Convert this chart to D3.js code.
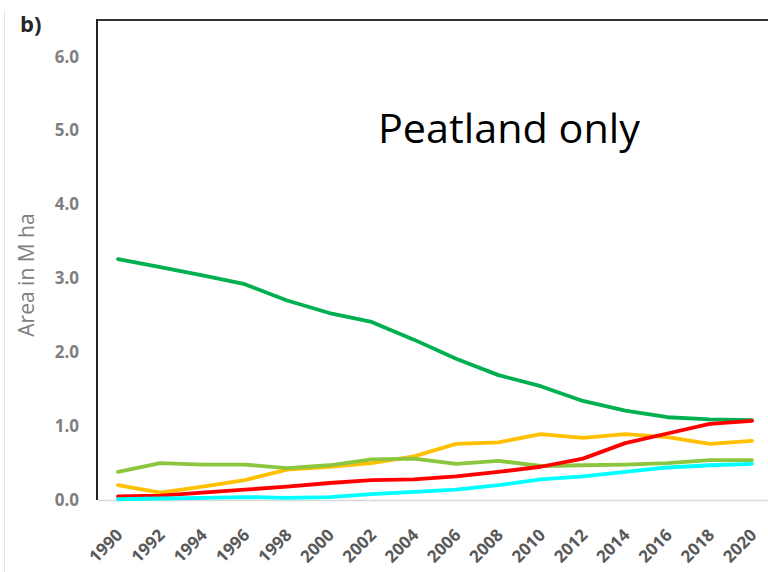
<!DOCTYPE html>
<html>
<head>
<meta charset="utf-8">
<script src="https://cdn.jsdelivr.net/npm/d3@7/dist/d3.min.js"></script>
<style>
  html, body { margin: 0; padding: 0; background: #fff; }
  svg { display: block; }
</style>
</head>
<body>
<svg id="chart" width="768" height="572"></svg>
<script>
// Years on the x axis (one label every two years)
const years = [1990, 1992, 1994, 1996, 1998, 2000, 2002, 2004, 2006, 2008, 2010, 2012, 2014, 2016, 2018, 2020];

// Area in million hectares, one array per land-cover series
const darkGreen  = [3.26, 3.15, 3.04, 2.92, 2.70, 2.53, 2.41, 2.17, 1.91, 1.69, 1.54, 1.34, 1.21, 1.12, 1.09, 1.08];
const orange     = [0.20, 0.10, 0.18, 0.27, 0.41, 0.45, 0.50, 0.59, 0.76, 0.78, 0.89, 0.84, 0.89, 0.85, 0.76, 0.80];
const lightGreen = [0.38, 0.50, 0.48, 0.48, 0.43, 0.47, 0.55, 0.56, 0.49, 0.53, 0.46, 0.47, 0.48, 0.50, 0.54, 0.54];
const red        = [0.05, 0.06, 0.10, 0.14, 0.18, 0.23, 0.27, 0.28, 0.32, 0.38, 0.45, 0.56, 0.77, 0.90, 1.03, 1.07];
const cyan       = [0.01, 0.02, 0.03, 0.04, 0.03, 0.04, 0.08, 0.11, 0.14, 0.20, 0.28, 0.32, 0.38, 0.44, 0.47, 0.49];

const yTicks = [0, 1, 2, 3, 4, 5, 6];

const series = [
  { values: darkGreen,  color: "#00b050" },
  { values: orange,     color: "#ffc000" },
  { values: lightGreen, color: "#8cc63f" },
  { values: red,        color: "#ff0000" },
  { values: cyan,       color: "#00ffff" }
];

const svg = d3.select("#chart");

const x = d3.scaleLinear().domain([1990, 2020]).range([118, 752]);
const y = d3.scaleLinear().domain([0, 6]).range([500, 56.6]);

// faint outer frame line on the left
svg.append("line")
  .attr("x1", 4.5).attr("x2", 4.5).attr("y1", 10).attr("y2", 572)
  .attr("stroke", "#e6e6e6").attr("stroke-width", 1);

// panel letter
svg.append("text")
  .attr("x", 20).attr("y", 32)
  .attr("font-family", "'Open Sans', sans-serif")
  .attr("font-weight", "bold").attr("font-size", 22)
  .attr("fill", "#262626")
  .text("b)");

// plot frame: top and left edges
svg.append("line")
  .attr("x1", 97).attr("x2", 768).attr("y1", 20).attr("y2", 20)
  .attr("stroke", "#333").attr("stroke-width", 2);
svg.append("line")
  .attr("x1", 97).attr("x2", 97).attr("y1", 19).attr("y2", 500)
  .attr("stroke", "#222").attr("stroke-width", 2);

// x baseline
svg.append("line")
  .attr("x1", 98).attr("x2", 768).attr("y1", y(0) + 0.5).attr("y2", y(0) + 0.5)
  .attr("stroke", "#d9d9d9").attr("stroke-width", 1.5);

// y axis labels
const yAxis = d3.axisLeft(y).tickValues(yTicks).tickFormat(d3.format(".1f")).tickSize(0).tickPadding(0);
const yg = svg.append("g").attr("transform", "translate(79,0)").call(yAxis);
yg.select(".domain").remove();
yg.selectAll("text")
  .attr("font-family", "'Open Sans', sans-serif")
  .attr("font-weight", "bold").attr("font-size", 17)
  .attr("fill", "#7f7f7f");

// x axis labels, rotated
const xAxis = d3.axisBottom(x).tickValues(years).tickFormat(d3.format("d")).tickSize(0).tickPadding(0);
const xg = svg.append("g").attr("transform", "translate(0,514)").call(xAxis);
xg.select(".domain").remove();
xg.selectAll("text")
  .attr("font-family", "'Open Sans', sans-serif")
  .attr("font-weight", "bold").attr("font-size", 17)
  .attr("fill", "#595959")
  .attr("text-anchor", "end")
  .attr("dy", "0.35em")
  .attr("transform", "translate(1,18) rotate(-45)");

// y axis title
svg.append("text")
  .attr("transform", "translate(34,275) rotate(-90)")
  .attr("text-anchor", "middle")
  .attr("font-family", "'Open Sans', sans-serif")
  .attr("font-size", 21)
  .attr("fill", "#7f7f7f")
  .text("Area in M ha");

// series lines
const line = d3.line()
  .x((d, i) => x(years[i]))
  .y(d => y(d));

svg.append("g").selectAll("path")
  .data(series)
  .join("path")
  .attr("d", s => line(s.values))
  .attr("fill", "none")
  .attr("stroke", s => s.color)
  .attr("stroke-width", 3.8)
  .attr("stroke-linejoin", "round")
  .attr("stroke-linecap", "round");

// in-plot caption
svg.append("text")
  .attr("x", 378).attr("y", 143)
  .attr("font-family", "'Open Sans', sans-serif")
  .attr("font-size", 41)
  .attr("textLength", 262)
  .attr("lengthAdjust", "spacingAndGlyphs")
  .attr("fill", "#000")
  .text("Peatland only");
</script>
</body>
</html>
